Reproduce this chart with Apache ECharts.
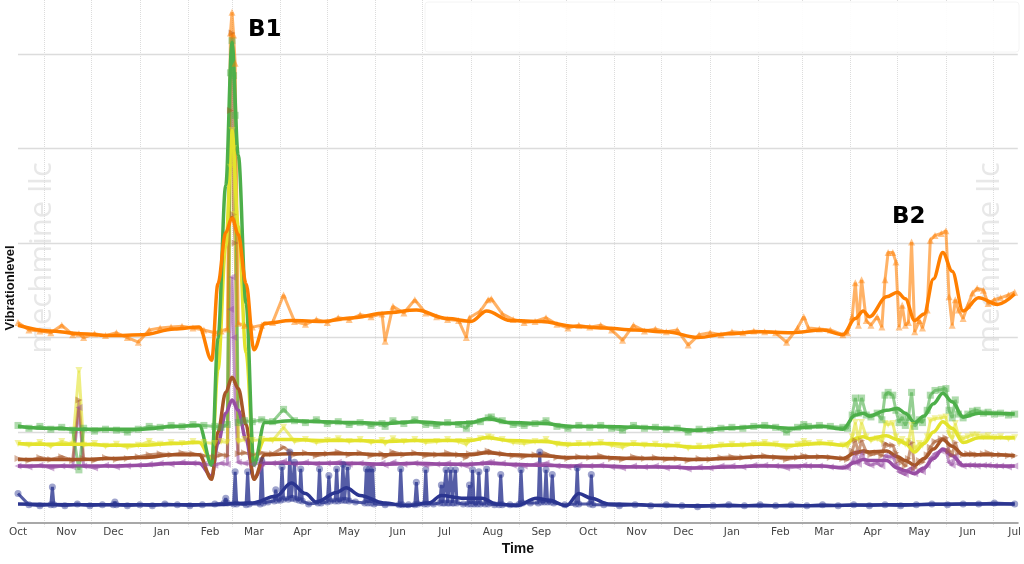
<!DOCTYPE html>
<html>
<head>
<meta charset="utf-8">
<script src="https://cdn.jsdelivr.net/npm/echarts@6/dist/echarts.min.js"></script>
<style>
  html, body { margin: 0; padding: 0; background: #fff; }
  #chart { width: 1024px; height: 564px; }
</style>
</head>
<body>
<div id="chart"></div>
<script>
const DAY = 86400000;
const START = Date.UTC(2016, 9, 15);
const END = Date.UTC(2018, 6, 17);
const MONTHS = ['Jan', 'Feb', 'Mar', 'Apr', 'May', 'Jun', 'Jul', 'Aug', 'Sep', 'Oct', 'Nov', 'Dec'];

// day offsets from START for the raw readings of the five sensor channels
const rawDays = [
  0, 7, 14, 21, 28, 35, 39, 42, 49, 56, 63, 70, 77, 84, 91, 98, 105, 112, 119,
  126, 130, 134, 136, 137, 138, 139, 141, 145, 150, 156,
  163, 170, 177, 184, 191, 198, 205, 212, 219, 226,
  233, 235, 240, 247, 254, 261, 268, 275, 282, 287,
  289, 296, 301, 303, 310, 317, 324, 331, 338, 345,
  352, 359, 366, 373, 380, 387, 394, 401, 408, 415,
  422, 429, 436, 443, 450, 457, 464, 471, 478, 485,
  492, 499, 503, 506, 513, 520,
  528, 531, 534, 536, 538, 540, 543, 546, 550, 553, 555, 557, 560, 562, 564, 566, 568, 570, 572, 574,
  577, 579, 582, 584, 587, 591, 594, 596, 598, 600, 602, 605, 608, 611, 614, 618, 621, 625, 629, 634, 638
];

const orangeRaw = [
  216, 208, 207, 205, 213, 203, 204, 200, 204, 202, 205, 200, 195, 208, 210, 211, 212, 210, 208,
  205, 207, 209, 522, 544, 520, 490, 215, 213, 211, 213,
  216, 245, 217, 214, 219, 216, 221, 219, 224, 222,
  225, 196, 233, 226, 240, 226, 222, 219, 218, 200,
  221, 228, 240, 241, 225, 219, 216, 217, 221, 214,
  210, 213, 211, 213, 208, 197, 213, 207, 209, 206,
  208, 192, 203, 205, 203, 206, 205, 207, 206, 205,
  195, 210, 222, 210, 209, 208,
  203, 205, 222, 258, 213, 261, 218, 213, 222, 211, 261, 290, 290, 280, 211, 234, 213, 216, 301, 206,
  218, 210, 229, 303, 308, 310, 313, 243, 213, 240, 229, 220, 234, 247, 252, 250, 236, 240, 242, 245, 248
];
const greenRaw = [
  107, 104, 106, 103, 105, 102, 60, 104, 101, 103, 102, 100, 103, 106, 105, 107, 106, 108, 107,
  106, 105, 108, 480, 514, 477, 435, 110, 112, 111, 113,
  111, 124, 112, 110, 113, 109, 111, 108, 110, 107,
  109, 106, 112, 109, 113, 108, 107, 110, 108, 104,
  109, 111, 115, 116, 112, 108, 107, 109, 112, 106,
  104, 107, 105, 107, 104, 102, 107, 104, 105, 103,
  104, 100, 103, 102, 104, 105, 104, 106, 107, 105,
  100, 105, 108, 106, 107, 106,
  105, 104, 118, 136, 120, 136, 118, 116, 120, 113, 139, 142, 139, 123, 110, 116, 107, 115, 142, 106,
  113, 110, 123, 139, 144, 145, 146, 123, 115, 134, 119, 115, 119, 122, 123, 120, 121, 119, 120, 118, 119
];
const yellowRaw = [
  88, 86, 89, 85, 90, 87, 165, 86, 88, 85, 87, 84, 86, 90, 87, 89, 88, 90, 89,
  88, 90, 89, 380, 419, 400, 330, 90, 92, 91, 92,
  91, 105, 90, 92, 89, 91, 93, 90, 92, 89,
  91, 88, 93, 90, 92, 89, 90, 92, 90, 87,
  91, 93, 95, 94, 92, 89, 88, 90, 92, 87,
  86, 88, 87, 89, 86, 84, 88, 86, 87, 85,
  86, 83, 85, 84, 86, 87, 86, 88, 89, 87,
  83, 87, 90, 88, 89, 88,
  86, 85, 95, 110, 92, 110, 95, 91, 93, 90, 109, 108, 109, 95, 88, 92, 87, 90, 107, 82,
  88, 86, 95, 112, 114, 115, 116, 98, 93, 109, 96, 93, 95, 97, 97, 95, 96, 94, 95, 93, 94
];
const brownRaw = [
  72, 70, 73, 71, 74, 70, 134, 72, 70, 73, 71, 72, 74, 76, 77, 76, 78, 77, 75,
  74, 76, 75, 440, 522, 330, 300, 77, 78, 76, 78,
  77, 84, 76, 78, 75, 77, 79, 76, 78, 75,
  77, 74, 79, 76, 78, 75, 76, 78, 76, 73,
  77, 78, 80, 79, 77, 75, 74, 76, 77, 73,
  72, 74, 73, 75, 72, 71, 74, 72, 73, 71,
  72, 70, 72, 71, 73, 74, 73, 74, 75, 73,
  71, 73, 75, 74, 74, 73,
  72, 71, 80, 91, 78, 91, 79, 76, 78, 75, 88, 86, 86, 78, 70, 68, 64, 72, 89, 62,
  70, 68, 76, 84, 90, 93, 94, 80, 76, 89, 78, 76, 77, 77, 76, 77, 78, 76, 76, 75, 75
];
const purpleRaw = [
  64, 63, 65, 62, 64, 63, 126, 64, 62, 65, 63, 64, 65, 66, 67, 66, 68, 67, 66,
  65, 67, 66, 230, 264, 200, 130, 68, 67, 66, 67,
  67, 69, 66, 68, 66, 67, 68, 66, 67, 65,
  67, 65, 68, 66, 67, 65, 66, 67, 66, 64,
  66, 67, 68, 68, 67, 65, 64, 66, 67, 64,
  63, 65, 64, 65, 63, 62, 64, 63, 64, 62,
  63, 61, 63, 62, 64, 64, 63, 65, 65, 64,
  62, 63, 65, 64, 64, 63,
  63, 62, 68, 78, 66, 78, 67, 65, 67, 64, 75, 74, 74, 66, 58, 57, 55, 60, 62, 56,
  60, 58, 65, 72, 77, 80, 81, 68, 65, 75, 66, 64, 65, 65, 64, 65, 65, 64, 64, 63, 64
];

// the navy channel has its own reading dates (many short bursts)
const navyDays = [
  0, 7, 14, 21, 22, 23, 30, 38, 46, 54,
  61, 62, 63, 70, 78, 86, 94, 102, 110, 118,
  126, 132, 133, 134, 138, 139, 140, 146, 147, 148,
  155, 156, 157, 160, 164, 165, 166, 168, 169, 170,
  173, 174, 175, 176, 177, 178, 180, 181, 182, 186,
  192, 193, 194, 198, 199, 200, 203, 204, 205, 207,
  208, 209, 210, 211, 212, 216, 222, 223, 224, 225,
  226, 227, 228, 235, 244, 245, 246, 250, 254, 255,
  256, 260, 261, 262, 266, 270, 271, 272, 273, 274,
  275, 276, 277, 278, 279, 280, 281, 285, 288, 289,
  290, 291, 292, 294, 295, 296, 299, 300, 301, 305,
  308, 309, 310, 315, 321, 322, 323, 328, 333, 334,
  335, 337, 338, 339, 341, 342, 343, 350, 357, 358,
  359, 366, 367, 368, 375, 385, 395, 405, 415, 425,
  435, 445, 455, 465, 475, 485, 495, 505, 515, 525,
  535, 545, 555, 565, 575, 585, 595, 605, 615, 625,
  638
];
const navyRaw = [
  35, 23, 22, 23, 42, 23, 22, 24, 22, 23,
  23, 26, 23, 22, 23, 22, 24, 23, 22, 23,
  24, 25, 30, 25, 24, 58, 24, 23, 58, 24,
  24, 70, 25, 26, 27, 39, 28, 28, 63, 29,
  29, 79, 30, 30, 68, 29, 28, 61, 27, 24,
  25, 61, 25, 26, 54, 27, 27, 61, 27, 28,
  66, 28, 28, 63, 27, 26, 25, 61, 25, 61,
  25, 61, 24, 23, 23, 61, 23, 23, 23, 47,
  24, 24, 60, 24, 24, 25, 44, 25, 25, 60,
  25, 25, 60, 25, 25, 60, 25, 24, 24, 44,
  24, 60, 24, 24, 58, 24, 24, 61, 24, 23,
  23, 55, 23, 23, 24, 60, 25, 25, 25, 79,
  26, 26, 60, 26, 26, 55, 25, 23, 24, 62,
  24, 24, 55, 23, 23, 22, 23, 22, 23, 22,
  21, 22, 23, 22, 23, 22, 23, 22, 23, 22,
  23, 22, 23, 22, 23, 24, 23, 24, 24, 25,
  24
];

// smoothed trend lines
const smoothDays = [
  0, 20, 40, 60, 80, 100, 116, 124, 128, 133,
  137, 141, 146, 151, 158, 175, 195, 215, 235, 255,
  275, 290, 300, 315, 335, 355, 375, 395, 415, 435,
  455, 475, 495, 515, 528, 536, 541, 545, 556, 563,
  568, 574, 580, 586, 592, 598, 605, 615, 627, 638
];
const orangeSmooth = [
  213, 207, 204, 202, 203, 209, 211, 176, 257, 311,
  327, 309, 257, 187, 215, 218, 217, 221, 226, 229,
  220, 217, 228, 218, 217, 212, 210, 208, 206, 200,
  204, 206, 205, 208, 203, 220, 228, 222, 243, 248,
  241, 218, 225, 262, 290, 270, 228, 242, 235, 246
];
const greenSmooth = [
  106, 104, 103, 103, 103, 106, 107, 65, 199, 361,
  512, 393, 236, 65, 110, 112, 111, 110, 109, 111,
  109, 110, 114, 110, 109, 106, 106, 105, 104, 102,
  104, 106, 104, 106, 103, 118, 120, 117, 123, 125,
  120, 110, 117, 130, 141, 132, 116, 120, 120, 119
];
const yellowSmooth = [
  88, 87, 87, 86, 86, 88, 89, 70, 166, 297,
  419, 318, 184, 70, 92, 92, 91, 91, 90, 91,
  91, 91, 94, 91, 90, 87, 88, 87, 86, 84,
  86, 87, 86, 88, 86, 93, 95, 93, 96, 92,
  88, 79, 88, 100, 111, 104, 89, 94, 94, 94
];
const brownSmooth = [
  71, 71, 71, 72, 73, 76, 76, 50, 100, 142,
  158, 146, 108, 50, 76, 77, 77, 77, 76, 77,
  76, 76, 78, 76, 75, 73, 73, 72, 72, 71,
  72, 74, 73, 74, 72, 78, 80, 79, 80, 74,
  70, 65, 72, 82, 92, 85, 76, 76, 76, 75
];
const purpleSmooth = [
  64, 64, 64, 64, 65, 67, 67, 53, 88, 120,
  134, 123, 92, 51, 67, 67, 67, 67, 66, 67,
  66, 66, 67, 66, 65, 64, 64, 63, 63, 62,
  63, 64, 64, 64, 62, 68, 71, 70, 70, 62,
  59, 56, 62, 72, 82, 75, 65, 65, 64, 64
];
const navySmoothDays = [0, 60, 120, 150, 165, 175, 184, 191, 204, 210, 219, 234, 249, 263, 271, 284, 297, 306, 319, 332, 340, 351, 359, 367, 378, 420, 500, 560, 600, 638];
const navySmooth = [24, 23, 23, 25, 32, 46, 35, 26, 36, 41, 33, 25, 22, 25, 33, 30, 30, 24, 22, 30, 28, 22, 35, 30, 24, 22, 22, 23, 24, 24];

const toPoints = (days, vals) => days.map((d, i) => [START + d * DAY, vals[i]]);

const channels = [
  { color: '#2b3590', symbol: 'circle', rot: 0, alpha: 0.8, days: navyDays, raw: navyRaw, sDays: navySmoothDays, smooth: navySmooth },
  { color: '#984ea3', symbol: 'triangle', rot: 90, alpha: 0.6, days: rawDays, raw: purpleRaw, sDays: smoothDays, smooth: purpleSmooth },
  { color: '#a65628', symbol: 'triangle', rot: -90, alpha: 0.6, days: rawDays, raw: brownRaw, sDays: smoothDays, smooth: brownSmooth },
  { color: '#e3e32c', symbol: 'triangle', rot: 180, alpha: 0.6, days: rawDays, raw: yellowRaw, sDays: smoothDays, smooth: yellowSmooth },
  { color: '#4daf4a', symbol: 'rect', rot: 0, alpha: 0.6, days: rawDays, raw: greenRaw, sDays: smoothDays, smooth: greenSmooth },
  { color: '#ff7f00', symbol: 'triangle', rot: 0, alpha: 0.6, days: rawDays, raw: orangeRaw, sDays: smoothDays, smooth: orangeSmooth }
];

const monthStarts = [];
for (let m = 10; m <= 30; m++) monthStarts.push(Date.UTC(2016, m, 1));
const monthMids = [];
for (let m = 9; m <= 30; m++) monthMids.push(Date.UTC(2016, m, 15));

const series = [];
channels.forEach(c => {
  series.push({
    type: 'line',
    data: toPoints(c.days, c.raw),
    symbol: c.symbol,
    symbolRotate: c.rot,
    symbolSize: 7,
    showAllSymbol: true,
    lineStyle: { color: c.color, width: 3, opacity: c.alpha },
    itemStyle: { color: c.color, opacity: 0.45 },
    silent: true
  });
});
channels.forEach(c => {
  series.push({
    type: 'line',
    data: toPoints(c.sDays, c.smooth),
    smooth: 0.35,
    smoothMonotone: 'x',
    showSymbol: false,
    lineStyle: { color: c.color, width: 3.5 },
    silent: true
  });
});

const gridColors = ['rgba(0,0,0,0)', '#dcdcdc', '#dcdcdc', '#dcdcdc', '#dcdcdc', '#dcdcdc', 'rgba(0,0,0,0)'];

const chart = echarts.init(document.getElementById('chart'));
chart.setOption({
  animation: false,
  grid: { left: 18, right: 4, top: 0, bottom: 37.4 },
  xAxis: {
    type: 'value',
    min: START,
    max: END,
    offset: -4,
    axisLine: { lineStyle: { color: '#a8a8a8', width: 2 } },
    axisTick: { show: false, customValues: monthStarts },
    splitLine: { show: true, lineStyle: { type: 'dotted', color: '#dcdcdc', width: 1 } },
    axisLabel: {
      customValues: monthMids,
      formatter: v => MONTHS[new Date(v).getUTCMonth()],
      color: '#444',
      fontFamily: 'DejaVu Sans',
      fontSize: 10.5,
      margin: 4
    },
    name: 'Time',
    nameLocation: 'middle',
    nameGap: 20,
    nameTextStyle: { color: '#111', fontFamily: 'Liberation Sans', fontWeight: 'bold', fontSize: 14 }
  },
  yAxis: {
    type: 'value',
    min: 0,
    max: 557,
    interval: 100,
    axisLine: { show: false },
    axisTick: { show: false },
    axisLabel: { show: false },
    splitLine: { lineStyle: { color: gridColors, width: 1.3 } }
  },
  graphic: [
    { type: 'text', x: 42, y: 258, rotation: Math.PI / 2, silent: true,
      style: { text: 'mechmine llc', fill: '#e8e8e8', font: '31px "Open Sans"', align: 'center', verticalAlign: 'middle' } },
    { type: 'text', x: 990, y: 258, rotation: Math.PI / 2, silent: true,
      style: { text: 'mechmine llc', fill: '#e8e8e8', font: '31px "Open Sans"', align: 'center', verticalAlign: 'middle' } },
    { type: 'rect', shape: { x: 425, y: 2, width: 594, height: 50, r: 3 }, silent: true, z: 10,
      style: { fill: 'rgba(255,255,255,0.9)', stroke: '#f4f4f4', lineWidth: 1 } },
    { type: 'text', x: 10, y: 288, rotation: Math.PI / 2, silent: true,
      style: { text: 'Vibrationlevel', fill: '#111', font: 'bold 13px "Liberation Sans"', align: 'center', verticalAlign: 'middle' } },
    { type: 'text', x: 248, y: 30, silent: true, z: 20,
      style: { text: 'B1', fill: '#000', font: 'bold 23px "DejaVu Sans"', align: 'left', verticalAlign: 'middle' } },
    { type: 'text', x: 892, y: 217, silent: true, z: 20,
      style: { text: 'B2', fill: '#000', font: 'bold 23px "DejaVu Sans"', align: 'left', verticalAlign: 'middle' } }
  ],
  series: series
});
</script>
</body>
</html>
